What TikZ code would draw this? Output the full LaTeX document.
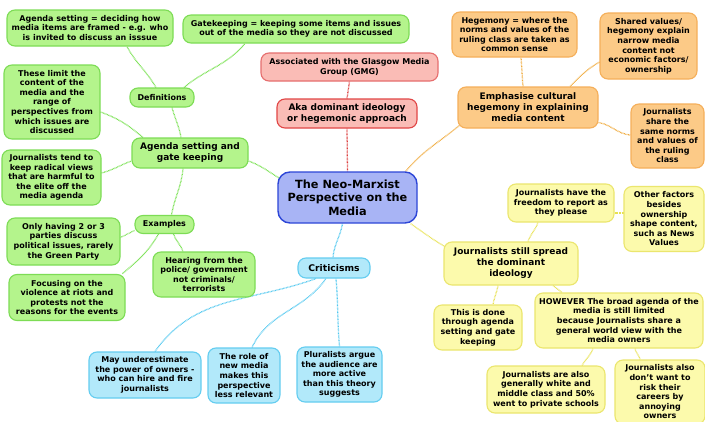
\documentclass[tikz,border=0pt]{standalone}
\usepackage{fontspec}
\setmainfont{DejaVu Sans}
\usetikzlibrary{backgrounds}
\definecolor{gfill}{RGB}{180,244,140}
\definecolor{gdraw}{RGB}{125,220,85}
\definecolor{gline}{RGB}{120,225,80}
\definecolor{rfill}{RGB}{250,188,182}
\definecolor{rdraw}{RGB}{230,110,110}
\definecolor{rdark}{RGB}{225,70,70}
\definecolor{rline}{RGB}{220,60,60}
\definecolor{bfill}{RGB}{168,180,245}
\definecolor{bdraw}{RGB}{45,70,215}
\definecolor{cfill}{RGB}{178,233,250}
\definecolor{cdraw}{RGB}{100,205,240}
\definecolor{cline}{RGB}{80,200,240}
\definecolor{ofill}{RGB}{252,202,135}
\definecolor{odraw}{RGB}{245,175,90}
\definecolor{oline}{RGB}{240,170,60}
\definecolor{yfill}{RGB}{252,250,172}
\definecolor{ydraw}{RGB}{235,230,110}
\definecolor{yline}{RGB}{232,226,80}
\tikzset{
  box/.style={rounded corners=8pt, line width=1.1pt, align=center, inner sep=1pt,
     font=\bfseries\fontsize{8}{9.6}\selectfont},
  big/.style={font=\bfseries\fontsize{9}{11}\selectfont},
  gbox/.style={box, fill=gfill, draw=gdraw},
  rbox/.style={box, fill=rfill, draw=rdraw},
  obox/.style={box, fill=ofill, draw=odraw},
  ybox/.style={box, fill=yfill, draw=ydraw},
  cbox/.style={box, fill=cfill, draw=cdraw},
  conn/.style={line width=1.3pt, dash pattern=on 0.7pt off 0.7pt},
  gl/.style={conn, draw=gline},
  rl/.style={conn, draw=rline},
  ol/.style={conn, draw=oline},
  yl/.style={conn, draw=yline},
  cl/.style={conn, draw=cline},
}
\begin{document}
\begin{tikzpicture}[x=1pt,y=1pt]
\useasboundingbox (0,0) rectangle (705,-421);

% ---- nodes ----
% green
\node[gbox, minimum width=166pt, minimum height=36pt] (asdef) at (90,-28) {Agenda setting = deciding how\\media items are framed - e.g. who\\is invited to discuss an isssue};
\node[gbox, minimum width=226pt, minimum height=28pt] (gkdef) at (296,-29) {Gatekeeping = keeping some items and issues\\out of the media so they are not discussed};
\node[gbox, minimum width=64pt, minimum height=19pt] (defs) at (162,-97.5) {Definitions};
\node[gbox, minimum width=96pt, minimum height=74pt] (limit) at (52,-102) {These limit the\\content of the\\media and the\\range of\\perspectives from\\which issues are\\discussed};
\node[gbox, big, minimum width=116pt, minimum height=30pt] (agenda) at (190,-153) {Agenda setting and\\gate keeping};
\node[gbox, minimum width=99pt, minimum height=55pt] (radical) at (51.5,-177.5) {Journalists tend to\\keep radical views\\that are harmful to\\the elite off the\\media agenda};
\node[gbox, minimum width=59pt, minimum height=18pt] (examples) at (164.5,-224.5) {Examples};
\node[gbox, minimum width=113pt, minimum height=47pt] (parties) at (63.5,-241.5) {Only having 2 or 3\\parties discuss\\political issues, rarely\\the Green Party};
\node[gbox, minimum width=116pt, minimum height=46pt] (riots) at (67,-297.5) {Focusing on the\\violence at riots and\\protests not the\\reasons for the events};
\node[gbox, minimum width=102pt, minimum height=45pt] (police) at (204,-274.5) {Hearing from the\\police/ government\\not criminals/\\terrorists};
% red
\node[rbox, minimum width=177pt, minimum height=28pt] (gmg) at (349.5,-67) {Associated with the Glasgow Media\\Group (GMG)};
\node[rbox, big, draw=rdark, minimum width=140pt, minimum height=29pt] (aka) at (347,-113.5) {Aka dominant ideology\\or hegemonic approach};
% centre
\node[box, fill=bfill, draw=bdraw, line width=1.4pt, rounded corners=12pt, font=\bfseries\fontsize{11.3}{13.4}\selectfont, minimum width=139pt, minimum height=51pt] (centre) at (347.5,-197.5) {The Neo-Marxist\\Perspective on the\\Media};
% cyan
\node[cbox, font=\bfseries\fontsize{9.2}{10}\selectfont, minimum width=72pt, minimum height=20pt] (crit) at (334,-268) {Criticisms};
\node[cbox, minimum width=112pt, minimum height=46pt] (owners) at (145,-375) {May underestimate\\the power of owners -\\who can hire and fire\\journalists};
\node[cbox, minimum width=72pt, minimum height=55pt] (newmedia) at (244,-375.5) {The role of\\new media\\makes this\\perspective\\less relevant};
\node[cbox, minimum width=85pt, minimum height=55pt] (plural) at (339.5,-374.5) {Pluralists argue\\the audience are\\more active\\than this theory\\suggests};
% orange
\node[obox, minimum width=125pt, minimum height=45pt] (hegemony) at (514.5,-34.5) {Hegemony = where the\\norms and values of the\\ruling class are taken as\\common sense};
\node[obox, minimum width=97pt, minimum height=66pt] (shared) at (648.5,-46) {Shared values/\\hegemony explain\\narrow media\\content not\\economic factors/\\ownership};
\node[obox, big, minimum width=140pt, minimum height=41pt] (emph) at (528,-107.5) {Emphasise cultural\\hegemony in explaining\\media content};
\node[obox, minimum width=73pt, minimum height=64pt] (norms) at (667.5,-136) {Journalists\\share the\\same norms\\and values of\\the ruling\\class};
% yellow
\node[ybox, minimum width=106pt, minimum height=38pt] (freedom) at (561,-203) {Journalists have the\\freedom to report as\\they please};
\node[ybox, minimum width=80pt, minimum height=65pt] (factors) at (664,-219) {Other factors\\besides\\ownership\\shape content,\\such as News\\Values};
\node[ybox, big, minimum width=134pt, minimum height=43pt] (spread) at (511,-263.5) {Journalists still spread\\the dominant\\ideology};
\node[ybox, minimum width=88pt, minimum height=45pt] (done) at (478,-327.5) {This is done\\through agenda\\setting and gate\\keeping};
\node[ybox, minimum width=168pt, minimum height=55pt] (however) at (619,-320.5) {HOWEVER The broad agenda of the\\media is still limited\\because Journalists share a\\general world view with the\\media owners};
\node[ybox, minimum width=118pt, minimum height=47pt] (white) at (546,-389.5) {Journalists are also\\generally white and\\middle class and 50\%\\went to private schools};
\node[ybox, minimum width=90pt, minimum height=64pt] (careers) at (660,-392) {Journalists also\\don't want to\\risk their\\careers by\\annoying\\owners};

% ---- connectors behind the nodes ----
\begin{scope}[on background layer]
\fill[white] (0,0) rectangle (705,-421);
% green
\draw[gl] ([xshift=-6pt]defs.north) to[out=120,in=-62] ([xshift=37pt]asdef.south);
\draw[gl] ([xshift=22pt]defs.north) to[out=40,in=-130] ([xshift=-51pt]gkdef.south);
\draw[gl] ([xshift=10pt]defs.south) to[out=-75,in=100] ([xshift=-9pt]agenda.north);
\draw[gl] ([yshift=-10pt]limit.east) to[out=-20,in=140] ([xshift=-47pt]agenda.north);
\draw[gl] ([yshift=4.5pt]radical.east) to[out=15,in=-160] ([yshift=-8pt]agenda.west);
\draw[gl] ([xshift=-7pt]agenda.south) to[out=-95,in=80] ([xshift=7pt]examples.north);
\draw[gl] ([yshift=-8pt]agenda.east) to[out=-20,in=150] ([shift={(4,-8)}]centre.north west);
\draw[gl] ([yshift=-6pt]examples.west) -- ([yshift=4pt]parties.east);
\draw[gl] ([xshift=-6pt]examples.south) to[out=-120,in=40] ([xshift=55pt]riots.north);
\draw[gl] ([xshift=9pt]examples.south) to[out=-70,in=110] ([xshift=-21pt]police.north);
% red
\draw[rl] (centre.north) -- (aka.south);
\draw[rl] (aka.north) -- (gmg.south);
% orange
\draw[ol] ([xshift=-12pt]centre.north east) to[out=50,in=-140] ([shift={(3,4)}]emph.south west);
\draw[ol] ([xshift=-5pt]emph.north) to[out=95,in=-85] ([xshift=6.5pt]hegemony.south);
\draw[ol] ([xshift=42pt]emph.north) to[out=45,in=-150] ([yshift=-16pt]shared.west);
\draw[ol] ([yshift=-15pt]emph.east) to[out=-10,in=175] ([yshift=1pt]norms.west);
% yellow
\draw[yl] ([xshift=-7pt]centre.south east) to[out=-35,in=150] ([shift={(3,-6)}]spread.north west);
\draw[yl] ([xshift=17pt]spread.north) to[out=70,in=-110] ([xshift=-23pt]freedom.south);
\draw[yl] ([yshift=-10pt]freedom.east) -- ([yshift=6pt]factors.west);
\draw[yl] ([xshift=-13pt]spread.south) to[out=-100,in=80] ([xshift=15pt]done.north);
\draw[yl] ([xshift=42pt]spread.south) to[out=-40,in=140] ([xshift=-57pt]however.north);
\draw[yl] ([xshift=-26pt]however.south) to[out=-110,in=60] ([xshift=36pt]white.north);
\draw[yl] ([xshift=16pt]however.south) to[out=-80,in=100] ([xshift=-20pt]careers.north);
% cyan
\draw[cl] ([xshift=-5pt]centre.south) to[out=-100,in=85] ([xshift=-1pt]crit.north);
\draw[cl] ([xshift=10pt]owners.north) to[out=55,in=-160] ([xshift=-18pt]crit.south);
\draw[cl] ([xshift=8pt]newmedia.north) to[out=65,in=-125] ([xshift=-8pt]crit.south);
\draw[cl] (plural.north) to[out=95,in=-85] ([xshift=2pt]crit.south);
\end{scope}
\end{tikzpicture}
\end{document}
